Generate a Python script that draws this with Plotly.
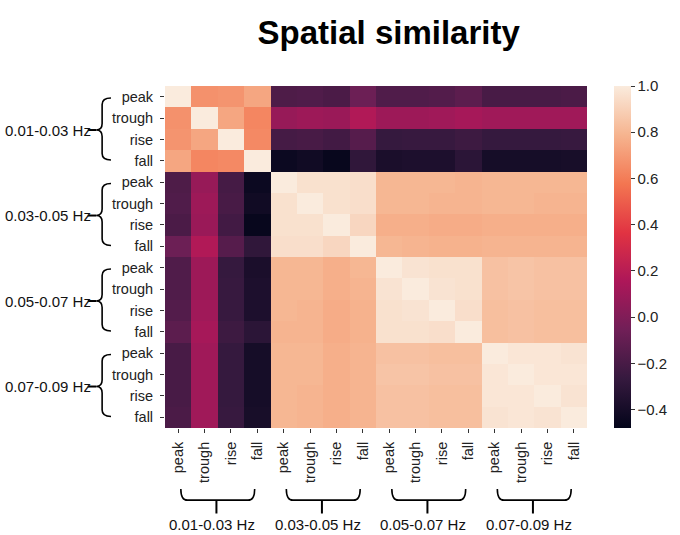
import plotly.graph_objects as go

# frequency bands and phases (rows/cols are band x phase)
bands = ["0.01-0.03 Hz", "0.03-0.05 Hz", "0.05-0.07 Hz", "0.07-0.09 Hz"]
phases = ["peak", "trough", "rise", "fall"]

# spatial similarity matrix (16 x 16, symmetric)
similarity = [
    [1.00, 0.67, 0.68, 0.74, -0.18, -0.17, -0.19, -0.07, -0.17, -0.17, -0.16, -0.13, -0.20, -0.20, -0.20, -0.19],
    [0.67, 1.00, 0.74, 0.63, 0.08, 0.10, 0.09, 0.17, 0.10, 0.10, 0.11, 0.13, 0.11, 0.11, 0.11, 0.11],
    [0.68, 0.74, 1.00, 0.64, -0.21, -0.20, -0.22, -0.15, -0.27, -0.26, -0.26, -0.24, -0.27, -0.27, -0.27, -0.26],
    [0.74, 0.63, 0.64, 1.00, -0.44, -0.42, -0.46, -0.29, -0.38, -0.37, -0.37, -0.31, -0.40, -0.40, -0.40, -0.39],
    [-0.18, 0.08, -0.21, -0.44, 1.00, 0.96, 0.96, 0.95, 0.80, 0.80, 0.80, 0.79, 0.80, 0.80, 0.80, 0.80],
    [-0.17, 0.10, -0.20, -0.42, 0.96, 1.00, 0.96, 0.95, 0.80, 0.80, 0.79, 0.79, 0.80, 0.80, 0.79, 0.79],
    [-0.19, 0.09, -0.22, -0.46, 0.96, 0.96, 1.00, 0.92, 0.77, 0.77, 0.76, 0.76, 0.77, 0.77, 0.77, 0.77],
    [-0.07, 0.17, -0.15, -0.29, 0.95, 0.95, 0.92, 1.00, 0.80, 0.79, 0.78, 0.78, 0.79, 0.79, 0.79, 0.79],
    [-0.17, 0.10, -0.27, -0.38, 0.80, 0.80, 0.77, 0.80, 1.00, 0.97, 0.96, 0.96, 0.84, 0.85, 0.84, 0.84],
    [-0.17, 0.10, -0.26, -0.37, 0.80, 0.80, 0.77, 0.79, 0.97, 1.00, 0.97, 0.96, 0.84, 0.85, 0.84, 0.84],
    [-0.16, 0.11, -0.26, -0.37, 0.80, 0.79, 0.76, 0.78, 0.96, 0.97, 1.00, 0.95, 0.83, 0.84, 0.83, 0.83],
    [-0.13, 0.13, -0.24, -0.31, 0.79, 0.79, 0.76, 0.78, 0.96, 0.96, 0.95, 1.00, 0.83, 0.84, 0.83, 0.83],
    [-0.20, 0.11, -0.27, -0.40, 0.80, 0.80, 0.77, 0.79, 0.84, 0.84, 0.83, 0.83, 1.00, 0.98, 0.98, 0.97],
    [-0.20, 0.11, -0.27, -0.40, 0.80, 0.80, 0.77, 0.79, 0.85, 0.85, 0.84, 0.84, 0.98, 1.00, 0.98, 0.98],
    [-0.20, 0.11, -0.27, -0.40, 0.80, 0.79, 0.77, 0.79, 0.84, 0.84, 0.83, 0.83, 0.98, 0.98, 1.00, 0.97],
    [-0.19, 0.11, -0.26, -0.39, 0.80, 0.79, 0.77, 0.79, 0.84, 0.84, 0.83, 0.83, 0.97, 0.98, 0.97, 1.00],
]

cbar_ticks = [-0.4, -0.2, 0.0, 0.2, 0.4, 0.6, 0.8, 1.0]

# seaborn "rocket" approximation
rocket = [
    [0.0, "#03051a"],
    [0.143, "#35193e"],
    [0.286, "#701f57"],
    [0.429, "#ad1759"],
    [0.571, "#e13342"],
    [0.714, "#f37651"],
    [0.857, "#f6b48f"],
    [1.0, "#faebdd"],
]

n = len(bands) * len(phases)
idx = list(range(n))
tick_text = phases * len(bands)

FONT = "Liberation Sans, Arial, sans-serif"

fig = go.Figure()
fig.add_trace(go.Heatmap(
    z=similarity, x=idx, y=idx,
    zmin=-0.48, zmax=1.0, colorscale=rocket,
    colorbar=dict(
        x=1.064, xanchor="left", xpad=0, y=0.5, yanchor="middle", ypad=0,
        thickness=17, len=342, lenmode="pixels",
        outlinewidth=0, ticks="outside", ticklen=4, tickcolor="#333",
        tickvals=cbar_ticks,
        ticktext=[("%.1f" % v).replace("-", "\u2212") for v in cbar_ticks],
        tickfont=dict(size=15, color="#222"),
    ),
    hoverongaps=False,
))

shapes = []
annotations = []

# left braces + band labels
xv, xh, xm, xs = -0.149, -0.128, -0.163, -0.183
for g, band in enumerate(bands):
    yt = g * 4 + 0.06
    yb = g * 4 + 2.96
    ym = g * 4 + 1.56
    r = 0.3
    path = (f"M {xh},{yt} Q {xv},{yt} {xv},{yt + r} L {xv},{ym - r} "
            f"Q {xv},{ym} {xm},{ym} Q {xv},{ym} {xv},{ym + r} "
            f"L {xv},{yb - r} Q {xv},{yb} {xh},{yb}")
    shapes.append(dict(type="path", path=path, xref="paper", yref="y",
                       line=dict(color="black", width=1.6)))
    shapes.append(dict(type="line", xref="paper", yref="y", x0=xs, x1=xm, y0=ym, y1=ym,
                       line=dict(color="black", width=2)))
    annotations.append(dict(text=band, xref="paper", yref="y", x=xs + 0.012, y=ym,
                            xanchor="right", yanchor="middle", showarrow=False,
                            font=dict(size=15, color="#111", family=FONT)))

# bottom braces + band labels
yt, yh, ys, yl = -0.178, -0.211, -0.250, -0.252
for g, band in enumerate(bands):
    x0 = g * 4 + 0.1
    x1 = g * 4 + 2.9
    xc = g * 4 + 1.45
    r = 0.25
    path = (f"M {x0},{yt} Q {x0},{yh} {x0 + r},{yh} L {x1 - r},{yh} "
            f"Q {x1},{yh} {x1},{yt}")
    shapes.append(dict(type="path", path=path, xref="x", yref="paper",
                       line=dict(color="black", width=1.6)))
    shapes.append(dict(type="line", xref="x", yref="paper", x0=xc, x1=xc, y0=yh, y1=ys,
                       line=dict(color="black", width=2)))
    annotations.append(dict(text=band, xref="x", yref="paper", x=xc - 0.15, y=yl,
                            xanchor="center", yanchor="top", showarrow=False,
                            font=dict(size=15, color="#111", family=FONT)))

fig.update_layout(
    width=680, height=535,
    margin=dict(l=165, r=91, t=86, b=107),
    paper_bgcolor="white", plot_bgcolor="white",
    font=dict(family=FONT, size=14, color="#222"),
    title=dict(text="<b>Spatial similarity</b>", x=0.53, xref="paper", xanchor="center",
               y=1 - 32 / 535, yref="container", yanchor="middle",
               font=dict(size=33, color="black", family=FONT)),
    xaxis=dict(tickvals=idx, ticktext=tick_text, tickangle=-90, ticks="outside",
               ticklen=4, tickcolor="#333", showgrid=False, zeroline=False,
               ticklabelstandoff=3,
               range=[-0.5, n - 0.5], tickfont=dict(size=14.5, color="#222")),
    yaxis=dict(tickvals=idx, ticktext=tick_text, ticks="outside", ticklen=4,
               tickcolor="#333", showgrid=False, zeroline=False,
               ticklabelstandoff=4,
               range=[n - 0.5, -0.5], tickfont=dict(size=14.5, color="#222")),
    shapes=shapes, annotations=annotations,
)

# drop the default page margin so the figure sits at the window's corner
fig.write_html("out.html", config={"displayModeBar": False},
               post_script="document.body.style.margin = '0';")
